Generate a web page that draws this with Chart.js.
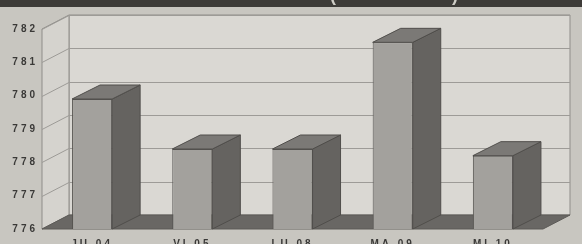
<!DOCTYPE html>
<html>
<head>
<meta charset="utf-8">
<script src="https://cdn.jsdelivr.net/npm/chart.js@4/dist/chart.umd.min.js"></script>
<style>
  html, body { margin: 0; padding: 0; background: #c8c6c0; }
  #wrap { width: 582px; height: 244px; }
</style>
</head>
<body>
<div id="wrap"><canvas id="tasaChart" width="582" height="244"></canvas></div>
<script>
// data
var labels = ['JU 04', 'VI 05', 'LU 08', 'MA 09', 'MI 10'];
var values = [779.9, 778.4, 778.4, 781.6, 778.2];
var yMin = 776;
var yMax = 782;
var yStep = 1;

// fake 3d depth
var wallDx = 27, wallDy = -14;
var barDx = 28, barDy = -14;

function poly(ctx, pts, fill, stroke) {
    ctx.beginPath();
    ctx.moveTo(pts[0][0], pts[0][1]);
    for (var i = 1; i < pts.length; i++) ctx.lineTo(pts[i][0], pts[i][1]);
    ctx.closePath();
    if (fill) { ctx.fillStyle = fill; ctx.fill(); }
    if (stroke) { ctx.strokeStyle = stroke; ctx.lineWidth = 1; ctx.stroke(); }
}

var box3d = {
    id: 'box3d',
    beforeDraw: function(chart) {
        var ctx = chart.ctx, a = chart.chartArea, ys = chart.scales.y;
        var bl = a.left + wallDx, br = a.right + wallDx;
        var bt = a.top + wallDy, bb = a.bottom + wallDy;
        ctx.save();
        ctx.fillStyle = '#c8c6c0';
        ctx.fillRect(0, 0, chart.width, chart.height);
        // title band (cut off at the top)
        ctx.fillStyle = '#3d3b38';
        ctx.fillRect(0, 0, chart.width, 7);
        ctx.fillStyle = '#cfcdc7';
        ctx.font = 'bold 18px "Liberation Sans"';
        ctx.textBaseline = 'alphabetic';
        ctx.fillText('(', 330, 1);
        ctx.fillText(')', 452, 1);
        // back wall
        poly(ctx, [[bl, bt], [br, bt], [br, bb], [bl, bb]], '#dad8d3', '#8f8d89');
        // left wall
        poly(ctx, [[a.left, a.top], [bl, bt], [bl, bb], [a.left, a.bottom]], '#d5d3ce', '#8f8d89');
        // floor
        poly(ctx, [[a.left, a.bottom], [a.right, a.bottom], [br, bb], [bl, bb]], '#696764', '#5c5a57');
        // grid lines on the walls
        ctx.strokeStyle = '#9d9b97';
        ctx.lineWidth = 1;
        for (var v = yMin + yStep; v <= yMax; v += yStep) {
            var py = Math.round(ys.getPixelForValue(v)) + 0.5;
            ctx.beginPath();
            ctx.moveTo(a.left, py);
            ctx.lineTo(bl, py + wallDy);
            ctx.lineTo(br, py + wallDy);
            ctx.stroke();
        }
        ctx.restore();
        ctx.letterSpacing = '3px';
    },
    afterDatasetsDraw: function(chart) {
        var ctx = chart.ctx;
        var bottom = chart.chartArea.bottom;
        var meta = chart.getDatasetMeta(0);
        ctx.save();
        meta.data.forEach(function(bar) {
            var p = bar.getProps(['x', 'y', 'width'], true);
            var x0 = p.x - p.width / 2, x1 = p.x + p.width / 2;
            // side face
            poly(ctx, [[x1, p.y], [x1 + barDx, p.y + barDy], [x1 + barDx, bottom + barDy], [x1, bottom]], '#656360', '#504e4b');
            // top face
            poly(ctx, [[x0, p.y], [x1, p.y], [x1 + barDx, p.y + barDy], [x0 + barDx, p.y + barDy]], '#7b7976', '#504e4b');
        });
        ctx.restore();
    }
};

var ctx = document.getElementById('tasaChart').getContext('2d');
var myChart = new Chart(ctx, {
    type: 'bar',
    data: {
        labels: labels,
        datasets: [{
            data: values,
            backgroundColor: '#a3a19d',
            borderColor: '#555350',
            borderWidth: 1,
            barPercentage: 0.4,
            categoryPercentage: 1
        }]
    },
    options: {
        responsive: false,
        animation: false,
        devicePixelRatio: 1,
        layout: { padding: { top: 29, right: 39, left: 0, bottom: 0 } },
        plugins: {
            legend: { display: false },
            tooltip: { enabled: false }
        },
        scales: {
            x: {
                grid: { display: false, drawTicks: false },
                border: { display: false },
                ticks: {
                    color: '#3a3937',
                    padding: 9,
                    font: { family: 'Liberation Sans', size: 10, weight: 'bold' }
                },
                afterFit: function(s) { s.height = 15; }
            },
            y: {
                min: yMin,
                max: yMax,
                grid: { display: false, drawTicks: false },
                border: { display: false },
                ticks: {
                    stepSize: yStep,
                    color: '#3a3937',
                    padding: 4,
                    font: { family: 'Liberation Sans', size: 10, weight: 'bold' }
                },
                afterFit: function(s) { s.width = 42; }
            }
        }
    },
    plugins: [box3d]
});
</script>
</body>
</html>
